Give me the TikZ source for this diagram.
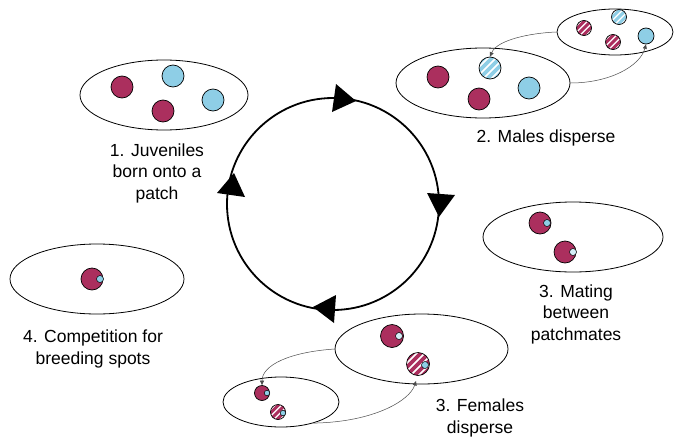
\documentclass[tikz,border=0pt]{standalone}
\usepackage{fontspec}
\setmainfont{Liberation Sans}
\usetikzlibrary{shapes.geometric, arrows.meta}
\definecolor{mred}{HTML}{AB2F5E}
\definecolor{mblue}{HTML}{8ECEE6}
\definecolor{pblue}{HTML}{D4EEF7}
\begin{document}
\begin{tikzpicture}[x=1pt,y=-1pt,
  patch/.style={ellipse, draw, line width=0.8pt, inner sep=0pt},
  ind/.style={circle, draw=black, line width=0.7pt, inner sep=0pt, minimum size=#1},
  ind/.default=22pt,
  rb/.style={ind=#1, fill=mred}, rb/.default=22pt,
  bb/.style={ind=#1, fill=mblue}, bb/.default=22pt,
  stripes/.style n args={3}{fill=white, path picture={
      \foreach \k in {-6,...,6}{\draw[#1, line width=#3] ([xshift={\k*#2-20pt}, yshift=-20pt]path picture bounding box.center) -- ++(40pt,40pt);}}},
  dot/.style={circle, draw=black, line width=0.5pt, fill=mblue, inner sep=0pt, minimum size=#1},
  dot/.default=7pt,
  mig/.style={draw=black!70, line width=0.5pt, -{Triangle[length=4.5pt,width=4pt]}},
  lbl/.style={font=\fontsize{17.5}{21.5}\selectfont, align=center, inner sep=0pt, text=black},
  cyc/.style={line width=1.8pt},
]
\useasboundingbox[fill=white] (0,0) rectangle (674,439);

% life cycle
\draw[cyc] (333,204) circle[radius=106pt];
\fill (356,101) -- (332,112) -- (336,84) -- cycle;
\fill (439,217) -- (455,195) -- (427,193) -- cycle;
\fill (313,307) -- (336,295) -- (334,323) -- cycle;
\fill (234,173) -- (245,197) -- (217,193) -- cycle;

% 1. juveniles
\node[patch, minimum width=168pt, minimum height=70pt] (p1) at (164,95) {};
\node[rb] (j1) at (122,87) {};
\node[bb] (j2) at (173,76) {};
\node[rb] (j3) at (163,111) {};
\node[bb] (j4) at (213,100) {};
\node[lbl] (t1) at (157,173) {1. Juveniles\\born onto a\\patch};

% 2. males disperse
\node[patch, minimum width=174pt, minimum height=70pt] (p2) at (483,83) {};
\node[rb] (m1) at (438,77) {};
\node[ind, stripes={mblue}{8pt}{3.6pt}] (m2) at (490,68) {};
\node[rb] (m3) at (479,99) {};
\node[bb] (m4) at (529,88) {};
\node[patch, minimum width=116pt, minimum height=46pt] (p2s) at (615,32) {};
\node[ind=15pt, stripes={mred}{6.5pt}{3pt}] (s1) at (584,28) {};
\node[ind=15pt, stripes={mblue}{6.5pt}{3pt}] (s2) at (619,17) {};
\node[ind=15pt, stripes={mred}{6.5pt}{3pt}] (s3) at (613,42) {};
\node[bb=16pt] (s4) at (646,36) {};
\draw[mig] (p2s.west) .. controls (530,33) and (497,40) .. (m2.north);
\draw[mig] (p2.east) .. controls (610,83) and (640,66) .. (s4.south);
\node[lbl] (t2) at (546,138) {2. Males disperse};

% 3. mating
\node[patch, minimum width=180pt, minimum height=70pt] (p3) at (573,237) {};
\node[rb] (a1) at (540,223) {};
\node[dot] (a1d) at (547,223) {};
\node[rb] (a2) at (565,252) {};
\node[dot, fill=pblue] (a2d) at (573,252) {};
\node[lbl] (t3) at (576,314) {3. Mating\\between\\patchmates};

% 4. competition
\node[patch, minimum width=174pt, minimum height=70pt] (p4) at (97,279) {};
\node[rb] (c1) at (92,279) {};
\node[dot] (c1d) at (100,279) {};
\node[lbl] (t4) at (93,349) {4. Competition for\\breeding spots};

% 3. females disperse
\node[patch, minimum width=173pt, minimum height=70pt] (p5) at (421.5,349) {};
\node[rb=23pt] (f1) at (392,336) {};
\node[dot, fill=pblue] (f1d) at (399,336) {};
\node[ind=23pt, stripes={mred}{8pt}{3.6pt}] (f2) at (418,364) {};
\node[dot] (f2d) at (425,365) {};
\node[patch, minimum width=116pt, minimum height=50pt] (p5s) at (281,402) {};
\node[rb=15pt] (g1) at (262,393) {};
\node[dot=5.5pt] (g1d) at (267,393) {};
\node[ind=15pt, stripes={mred}{6.5pt}{3pt}] (g2) at (278,412) {};
\node[dot=5.5pt] (g2d) at (283,413) {};
\coordinate (f2end) at (416,381);
\draw[mig] (p5.west) .. controls (290,352) and (262,365) .. (g1.north);
\draw[mig] (p5s.-33) .. controls (375,422) and (410,400) .. (f2end);
\node[lbl] (t5) at (480,418) {3. Females\\disperse};
\end{tikzpicture}
\end{document}
